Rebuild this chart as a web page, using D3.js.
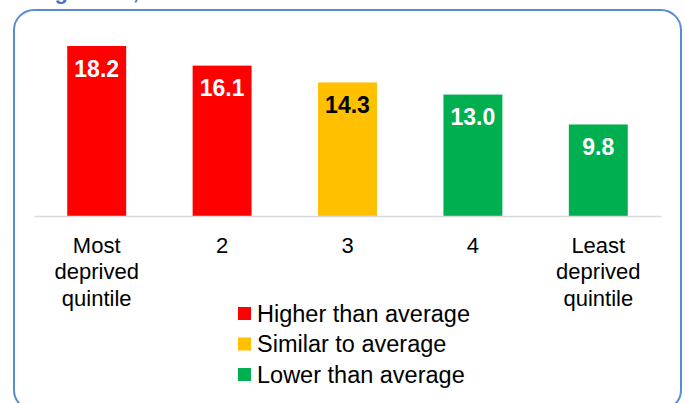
<!DOCTYPE html>
<html>
<head>
<meta charset="utf-8">
<script src="https://cdn.jsdelivr.net/npm/d3@7"></script>
<style>
  html, body { margin: 0; padding: 0; background: #fff; }
  svg { display: block; font-family: "Liberation Sans", Arial, sans-serif; }
</style>
</head>
<body>
<svg id="chart" width="685" height="403"></svg>
<script>
const categories = [["Most", "deprived", "quintile"], ["2"], ["3"], ["4"], ["Least", "deprived", "quintile"]];
const values = [18.2, 16.1, 14.3, 13.0, 9.8];
const status = ["Higher", "Higher", "Similar", "Lower", "Lower"];
const legendKeys = ["Higher", "Similar", "Lower"];
const legendLabels = ["Higher than average", "Similar to average", "Lower than average"];
const statusColors = ["#FF0000", "#FFC000", "#00B050"];
const labelColors = ["#FFFFFF", "#000000", "#FFFFFF"];
const yDomain = [0, 20];

const svg = d3.select("#chart");

// cut-off title (only descenders visible in the reference)
svg.append("text")
  .attr("x", 35).attr("y", -1)
  .attr("font-size", 22).attr("font-weight", "bold")
  .attr("fill", "#4a78c8")
  .text("Figure 12,");

// rounded frame
svg.append("rect")
  .attr("x", 14).attr("y", 10)
  .attr("width", 667).attr("height", 400)
  .attr("rx", 20).attr("ry", 20)
  .attr("fill", "none")
  .attr("stroke", "#5b8bd3")
  .attr("stroke-width", 2);

const idx = d3.range(values.length);
const x = d3.scaleBand().domain(idx).range([34, 661]).paddingInner(0.53).paddingOuter(0.265);
const y = d3.scaleLinear().domain(yDomain).range([216, 216 - 186.8]);
const color = d3.scaleOrdinal().domain(legendKeys).range(statusColors);
const labColor = d3.scaleOrdinal().domain(legendKeys).range(labelColors);

// bars
svg.append("g").selectAll("rect").data(idx).join("rect")
  .attr("x", i => x(i))
  .attr("y", i => y(values[i]))
  .attr("width", x.bandwidth())
  .attr("height", i => y(0) - y(values[i]))
  .attr("fill", i => color(status[i]));

// value labels
svg.append("g").selectAll("text").data(idx).join("text")
  .attr("x", i => x(i) + x.bandwidth() / 2)
  .attr("y", i => y(values[i]) + 30.5)
  .attr("text-anchor", "middle")
  .attr("font-size", 23).attr("font-weight", "bold")
  .attr("fill", i => labColor(status[i]))
  .text(i => values[i].toFixed(1));

// axis baseline
const axis = d3.axisBottom(x).tickSize(0).tickFormat("");
const ax = svg.append("g").attr("transform", `translate(0,${y(0)})`).call(axis);
ax.select(".domain").attr("stroke", "#d9d9d9").attr("stroke-width", 1.5);

// category labels
const cat = svg.append("g").selectAll("text").data(idx).join("text")
  .attr("text-anchor", "middle")
  .attr("font-size", 22)
  .attr("fill", "#000");
cat.each(function(i) {
  const t = d3.select(this);
  categories[i].forEach((line, k) => {
    t.append("tspan")
      .attr("x", x(i) + x.bandwidth() / 2)
      .attr("y", 252.5 + k * 26.5)
      .text(line);
  });
});

// legend
const lg = svg.append("g");
legendKeys.forEach((k, j) => {
  const by = 321.5 + j * 30.5;
  lg.append("rect")
    .attr("x", 238).attr("y", by - 14.5)
    .attr("width", 13).attr("height", 13)
    .attr("fill", color(k));
  lg.append("text")
    .attr("x", 257).attr("y", by)
    .attr("font-size", 23.5)
    .attr("fill", "#000")
    .text(legendLabels[j]);
});
</script>
</body>
</html>
